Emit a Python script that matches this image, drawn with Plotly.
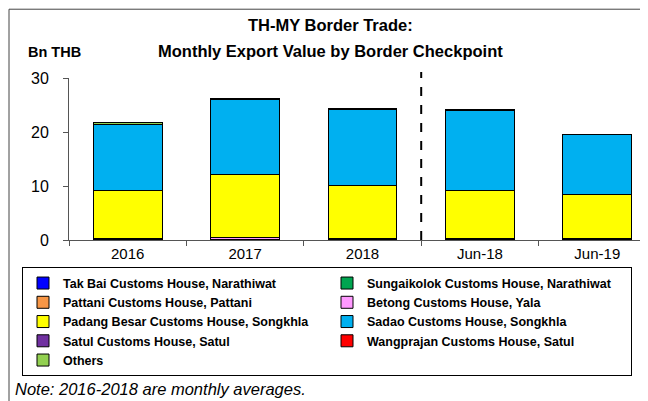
import plotly.graph_objects as go

categories = ["2016", "2017", "2018", "Jun-18", "Jun-19"]

tak_bai = [0.10, 0.08, 0.10, 0.10, 0.10]
sungaikolok = [0.12, 0.08, 0.12, 0.12, 0.12]
pattani = [0.02, 0.02, 0.02, 0.02, 0.02]
betong = [0.05, 0.35, 0.05, 0.05, 0.05]
padang_besar = [8.95, 11.55, 9.75, 8.90, 8.20]
sadao = [12.20, 13.90, 14.05, 14.70, 11.00]
satul = [0.02, 0.02, 0.02, 0.02, 0.02]
wangprajan = [0.02, 0.02, 0.02, 0.02, 0.02]
others = [0.30, 0.10, 0.15, 0.15, 0.10]

series_names = [
    "Tak Bai Customs House, Narathiwat",
    "Sungaikolok Customs House, Narathiwat",
    "Pattani Customs House, Pattani",
    "Betong Customs House, Yala",
    "Padang Besar Customs House, Songkhla",
    "Sadao Customs House, Songkhla",
    "Satul Customs House, Satul",
    "Wangprajan Customs House, Satul",
    "Others",
]
series_values = [tak_bai, sungaikolok, pattani, betong, padang_besar, sadao, satul, wangprajan, others]
series_colors = ["#0000FF", "#00A550", "#F79646", "#FF99FF", "#FFFF00",
                 "#00B0F0", "#7030A0", "#FF0000", "#92D050"]

y_ticks = [0, 10, 20, 30]

FONT = "Arial, Liberation Sans, sans-serif"

TOP, BOTTOM = 70.0, 232.5
PH = BOTTOM - TOP
LEFT, PW = 61.0, 587.0


def py(ypx):
    return (BOTTOM - ypx) / PH


def px(xpx):
    return (xpx - LEFT) / PW


fig = go.Figure()
for name, vals, col in zip(series_names, series_values, series_colors):
    fig.add_trace(go.Bar(
        x=categories, y=vals, name=name,
        marker=dict(color=col, line=dict(color="black", width=1)),
        width=0.585,
    ))

fig.update_layout(
    width=648, height=401,
    barmode="stack",
    plot_bgcolor="white", paper_bgcolor="white",
    margin=dict(l=LEFT, r=0, t=TOP, b=401 - BOTTOM),
    font=dict(family=FONT, color="black", size=14),
    showlegend=True,
    legend=dict(
        orientation="h",
        x=px(14), xanchor="left",
        y=py(260), yanchor="top",
        bordercolor="black", borderwidth=1,
        entrywidth=259, entrywidthmode="pixels",
        itemwidth=30,
        font=dict(size=12.5, family=FONT, color="black", weight="bold"),
        traceorder="normal",
        itemclick=False,
    ),
)

fig.update_xaxes(
    type="category",
    range=[-0.5, 4.5],
    showline=True, linecolor="#555555", linewidth=1,
    ticks="outside", tickson="boundaries", ticklen=5, tickcolor="#555555",
    showgrid=False, zeroline=False,
    tickfont=dict(size=15),
)
fig.update_yaxes(
    range=[0, 30],
    tickvals=y_ticks,
    showline=True, linecolor="#555555", linewidth=1,
    ticks="outside", ticklen=5, tickcolor="#555555",
    ticklabelstandoff=11,
    showgrid=False, zeroline=False,
    tickfont=dict(size=16),
)

# dashed separator
fig.add_shape(type="line", xref="x", yref="paper", x0=2.5, x1=2.5, y0=0, y1=py(64),
              line=dict(color="black", width=2, dash="dash"))

# outer frame
fig.add_shape(type="rect", xref="paper", yref="paper",
              x0=px(1), x1=px(660), y0=py(400), y1=py(1),
              line=dict(color="#444444", width=1))

fig.add_annotation(text="<b>TH-MY Border Trade:</b>", xref="paper", yref="paper",
                   x=px(322), y=py(17), xanchor="center", yanchor="middle",
                   showarrow=False, font=dict(size=16.5, family=FONT, color="black"))
fig.add_annotation(text="<b>Monthly Export Value by Border Checkpoint</b>", xref="paper", yref="paper",
                   x=px(322), y=py(43), xanchor="center", yanchor="middle",
                   showarrow=False, font=dict(size=16.5, family=FONT, color="black"))
fig.add_annotation(text="<b>Bn THB</b>", xref="paper", yref="paper",
                   x=px(18), y=py(44), xanchor="left", yanchor="middle",
                   showarrow=False, font=dict(size=14.5, family=FONT, color="black"))
fig.add_annotation(text="<i>Note: 2016-2018 are monthly averages.</i>", xref="paper", yref="paper",
                   x=px(5), y=py(382), xanchor="left", yanchor="middle",
                   showarrow=False, font=dict(size=16.5, family=FONT, color="black"))

fig.write_html("out.html")
